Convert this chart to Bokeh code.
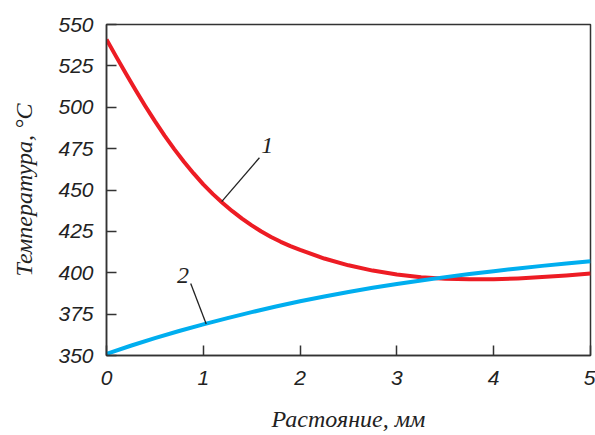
from bokeh.plotting import figure
from bokeh.models import Range1d, FixedTicker, ColumnDataSource
from bokeh.embed import file_html
from bokeh.resources import INLINE
from bokeh.core.properties import value

# Data
dist1 = [0.0, 0.1, 0.2, 0.3, 0.4, 0.5, 0.6, 0.7, 0.8, 0.9, 1.0,
         1.1, 1.2, 1.3, 1.4, 1.5, 1.6, 1.7, 1.8, 1.9, 2.0,
         2.25, 2.5, 2.75, 3.0, 3.25, 3.5, 3.75, 4.0, 4.25, 4.5, 4.75, 5.0]
temp1 = [541.0, 530.6, 520.4, 510.4, 500.8, 491.6, 482.9, 474.7, 467.1,
         460.0, 453.4, 447.5, 442.1, 437.2, 432.7, 428.6, 424.9, 421.6,
         418.7, 416.1, 413.8,
         408.6, 404.5, 401.3, 398.9, 397.3, 396.4, 396.0, 396.1, 396.6,
         397.4, 398.4, 399.6]
dist2 = [0.0, 0.25, 0.5, 0.75, 1.0, 1.25, 1.5, 1.75, 2.0, 2.25, 2.5,
         2.75, 3.0, 3.25, 3.5, 3.75, 4.0, 4.25, 4.5, 4.75, 5.0]
temp2 = [351.0, 355.9, 360.5, 364.8, 368.8, 372.6, 376.2, 379.6, 382.8,
         385.7, 388.4, 390.9, 393.2, 395.35, 397.35, 399.2, 400.95, 402.6,
         404.15, 405.6, 406.95]

x_ticks = [0, 1, 2, 3, 4, 5]
y_ticks = [350, 375, 400, 425, 450, 475, 500, 525, 550]

curve_labels = ["1", "2"]
label_x = [1.66, 0.79]
label_y = [477.0, 398.5]
leader_x0 = [1.19, 1.03]
leader_y0 = [443.0, 369.0]
leader_x1 = [1.58, 0.87]
leader_y1 = [469.5, 393.5]

x_title = "Растояние, мм"
y_title = "Температура, °С"

p = figure(width=595, height=435, output_backend="svg", toolbar_location=None,
           x_range=Range1d(0, 5), y_range=Range1d(350, 550),
           min_border_left=106, min_border_right=5, min_border_top=24,
           min_border_bottom=80)

p.background_fill_color = "white"
p.border_fill_color = "white"
p.outline_line_color = "#333333"
p.outline_line_width = 1.5
p.xgrid.visible = False
p.ygrid.visible = False

p.line(dist1, temp1, line_color="#ed1c24", line_width=4, line_join="round")
p.line(dist2, temp2, line_color="#00aeef", line_width=4, line_join="round")

p.segment(x0=leader_x0, y0=leader_y0, x1=leader_x1, y1=leader_y1,
          line_color="#222222", line_width=1.3)

src = ColumnDataSource(dict(x=label_x, y=label_y, t=curve_labels))
p.text(x="x", y="y", text="t", source=src, text_font=value("Liberation Serif"),
       text_font_style="italic", text_font_size="24px", text_color="#222222",
       text_align="center", text_baseline="middle")

for ax in (p.xaxis[0], p.yaxis[0]):
    ax.axis_line_color = "#333333"
    ax.axis_line_width = 1.5
    ax.major_tick_in = 10
    ax.major_tick_out = 0
    ax.major_tick_line_color = "#333333"
    ax.major_tick_line_width = 1.5
    ax.minor_tick_line_color = None
    ax.major_label_text_font = "Liberation Sans"
    ax.major_label_text_font_style = "italic"
    ax.major_label_text_font_size = "21px"
    ax.major_label_text_color = "#222222"
    ax.axis_label_text_font = "Liberation Serif"
    ax.axis_label_text_font_style = "italic"
    ax.axis_label_text_font_size = "24px"
    ax.axis_label_text_color = "#222222"

p.xaxis.ticker = FixedTicker(ticks=x_ticks)
p.yaxis.ticker = FixedTicker(ticks=y_ticks)
p.xaxis.major_label_standoff = 15
p.yaxis.major_label_standoff = 13
p.xaxis.axis_label = x_title
p.yaxis.axis_label = y_title
p.xaxis.axis_label_standoff = 18
p.yaxis.axis_label_standoff = 18

open("out.html", "w").write(file_html(p, INLINE))
